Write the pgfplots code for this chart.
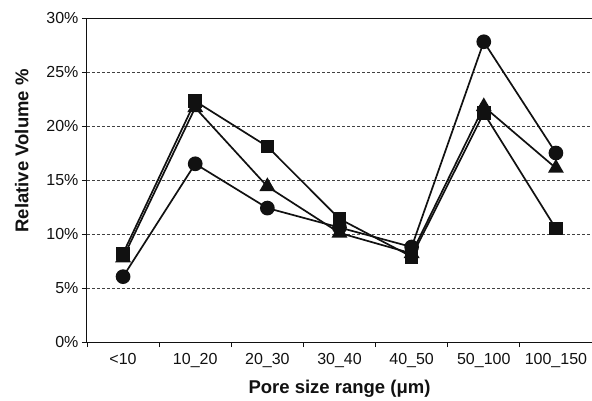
\documentclass[border=0pt]{standalone}
\usepackage{fontspec}
\setmainfont{Liberation Sans}
\usepackage{pgfplots}
\pgfplotsset{compat=1.18}
\definecolor{ink}{RGB}{17,17,17}

\begin{document}
\begin{tikzpicture}[x=1pt,y=1pt]
\useasboundingbox (-87,-58) rectangle (505,342);
\begin{axis}[
  at={(0,0)}, anchor=south west,
  scale only axis, width=505pt, height=324pt,
  xmin=-0.5, xmax=6.5, ymin=0, ymax=30,
  axis x line*=bottom, axis y line*=left,
  axis line style={-, line width=1pt, ink},
  xtick={0,...,6},
  xticklabels={<10,10\_20,20\_30,30\_40,40\_50,50\_100,100\_150},
  minor xtick={-0.5,0.5,...,6.5},
  major x tick style={draw=none},
  minor x tick style={line width=0.8pt, ink},
  ytick={0,5,...,30},
  yticklabel={\pgfmathprintnumber{\tick}\%},
  y tick style={line width=0.8pt, ink},
  tick align=outside, minor tick length=5pt, major tick length=5pt,
  ymajorgrids, grid style={dashed, line width=0.7pt, ink!80, dash pattern=on 3pt off 2pt},
  tick label style={font=\fontsize{16}{18}\selectfont, ink},
  /pgf/number format/assume math mode=true,
  xticklabel style={yshift=-3pt},
  xlabel={\textbf{Pore size range (μm)}},
  ylabel={\textbf{Relative Volume \%}},
  label style={font=\fontsize{18.5}{21}\selectfont, ink},
  xlabel style={yshift=-5pt},
  ylabel style={at={(ticklabel cs:0.59,11pt)}},
  clip=false,
]
\draw[line width=1pt, ink] (axis cs:-0.5,30) -- (axis cs:6.5,30);
\addplot[ink, line width=1.7pt, mark=*, mark size=6.5pt] coordinates {
  (0,6.05) (1,16.5) (2,12.4) (3,10.6) (4,8.8) (5,27.8) (6,17.5)};
\addplot[ink, line width=1.7pt, mark=triangle*, mark size=7.5pt] coordinates {
  (0,7.8) (1,21.7) (2,14.4) (3,10.1) (4,8.2) (5,21.8) (6,16.1)};
\addplot[ink, line width=1.7pt, mark=square*, mark size=6pt] coordinates {
  (0,8.2) (1,22.3) (2,18.1) (3,11.4) (4,7.9) (5,21.2) (6,10.5)};
\end{axis}
\end{tikzpicture}
\end{document}
